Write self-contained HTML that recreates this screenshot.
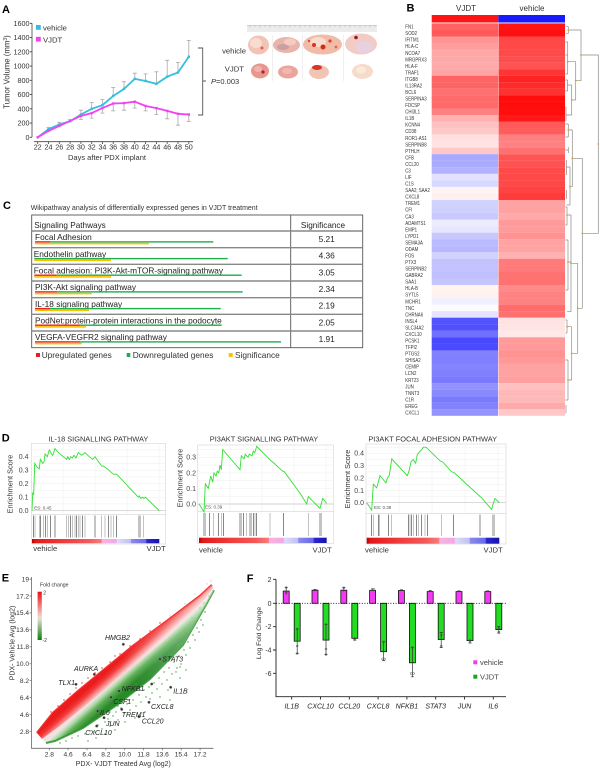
<!DOCTYPE html>
<html><head><meta charset="utf-8"><style>
html,body{margin:0;padding:0;background:#fff;}
svg{display:block;font-family:"Liberation Sans",Arial,sans-serif;}
</style></head><body>
<svg width="600" height="771" viewBox="0 0 600 771" xmlns="http://www.w3.org/2000/svg">
<defs>
<linearGradient id="gsea" x1="0" y1="0" x2="1" y2="0">
<stop offset="0" stop-color="#b80000"/><stop offset="0.03" stop-color="#e61818"/><stop offset="0.25" stop-color="#ef3c3c"/><stop offset="0.45" stop-color="#f45a5a"/><stop offset="0.545" stop-color="#f87c7c"/><stop offset="0.55" stop-color="#f8b4e0"/><stop offset="0.66" stop-color="#f2a8e6"/><stop offset="0.67" stop-color="#dcdcf8"/><stop offset="0.775" stop-color="#c0c0f4"/><stop offset="0.78" stop-color="#8a8aec"/><stop offset="0.895" stop-color="#6a6ae4"/><stop offset="0.9" stop-color="#2a2ad0"/><stop offset="1" stop-color="#1a10b0"/>
</linearGradient>
<linearGradient id="upg" gradientUnits="userSpaceOnUse" x1="100" y1="694" x2="92" y2="685">
<stop offset="0" stop-color="#f8d4d4"/><stop offset="0.3" stop-color="#f88a8a"/><stop offset="0.65" stop-color="#f03a3a"/><stop offset="1" stop-color="#ec1c1c"/>
</linearGradient>
<linearGradient id="lowg" gradientUnits="userSpaceOnUse" x1="100" y1="694" x2="109.5" y2="704.6">
<stop offset="0" stop-color="#f0e2e2"/><stop offset="0.22" stop-color="#b8dcb0"/><stop offset="0.55" stop-color="#5cae54"/><stop offset="1" stop-color="#2a8a2a"/>
</linearGradient>
<linearGradient id="fadeg" gradientUnits="userSpaceOnUse" x1="120" y1="662" x2="213" y2="587">
<stop offset="0" stop-color="#fff" stop-opacity="0"/><stop offset="1" stop-color="#fff" stop-opacity="0.5"/>
</linearGradient>
<linearGradient id="fcg" x1="0" y1="0" x2="0" y2="1">
<stop offset="0" stop-color="#e81010"/><stop offset="0.45" stop-color="#f4b8b8"/><stop offset="0.55" stop-color="#e6e0d6"/><stop offset="1" stop-color="#0e800e"/>
</linearGradient>
</defs>

<!-- ================= PANEL A ================= -->
<text x="2" y="13" font-size="11" font-weight="bold">A</text>
<g font-size="7.2" fill="#333" text-anchor="end">
<text x="29.5" y="139.8">0</text><text x="29.5" y="125.5">200</text><text x="29.5" y="111.3">400</text><text x="29.5" y="97">600</text><text x="29.5" y="82.8">800</text><text x="29.5" y="68.5">1000</text><text x="29.5" y="54.3">1200</text><text x="29.5" y="40">1400</text><text x="29.5" y="25.8">1600</text>
</g>
<path d="M32,23.3 V137.3 M29.8,137.3H32 M29.8,123.05H32 M29.8,108.8H32 M29.8,94.55H32 M29.8,80.3H32 M29.8,66.05H32 M29.8,51.8H32 M29.8,37.55H32 M29.8,23.3H32" stroke="#444" stroke-width="0.8" fill="none"/>
<path d="M34,141.7 H193 M37.7,141.7V144 M48.5,141.7V144 M59.3,141.7V144 M70.1,141.7V144 M80.9,141.7V144 M91.7,141.7V144 M102.4,141.7V144 M113.2,141.7V144 M124,141.7V144 M134.8,141.7V144 M145.6,141.7V144 M156.4,141.7V144 M167.2,141.7V144 M178,141.7V144 M188.8,141.7V144" stroke="#444" stroke-width="0.8" fill="none"/>
<g font-size="7.2" fill="#333" text-anchor="middle">
<text x="37.7" y="149.6">22</text><text x="48.5" y="149.6">24</text><text x="59.3" y="149.6">26</text><text x="70.1" y="149.6">28</text><text x="80.9" y="149.6">30</text><text x="91.7" y="149.6">32</text><text x="102.4" y="149.6">34</text><text x="113.2" y="149.6">36</text><text x="124" y="149.6">38</text><text x="134.8" y="149.6">40</text><text x="145.6" y="149.6">42</text><text x="156.4" y="149.6">44</text><text x="167.2" y="149.6">46</text><text x="178" y="149.6">48</text><text x="188.8" y="149.6">50</text>
</g>
<text x="107" y="160" font-size="7.5" fill="#333" text-anchor="middle">Days after  PDX implant</text>
<text transform="translate(9.5,72) rotate(-90)" font-size="7.8" fill="#333" text-anchor="middle">Tumor Volume (mm<tspan font-size="5" dy="-2.5">3</tspan><tspan dy="2.5">)</tspan></text>
<!-- error bars -->
<path d="M48.5,129.1V127.5 M46.5,127.5H50.5 M59.3,124.5V122.3 M57.3,122.3H61.3 M70.1,121.3V119.7 M68.1,119.7H72.1 M80.9,114.5V110.2 M78.9,110.2H82.9 M91.7,108.8V102.4 M89.7,102.4H93.7 M102.4,105.2V99.5 M100.4,99.5H104.4 M113.2,96V87.4 M111.2,87.4H115.2 M124,88.9V81.7 M122,81.7H126 M134.8,78.9V73.2 M132.8,73.2H136.8 M145.6,81V73.9 M143.6,73.9H147.6 M156.4,83.9V71.8 M154.4,71.8H158.4 M167.2,76.7V60.3 M165.2,60.3H169.2 M178,72.5V62.5 M176,62.5H180 M188.8,56.8V40.4 M186.8,40.4H190.8" stroke="#a8a8a8" stroke-width="0.8" fill="none"/>
<path d="M80.9,115.9V119.5 M78.9,119.5H82.9 M91.7,113.1V118.1 M89.7,118.1H93.7 M102.4,108.1V113.1 M100.4,113.1H104.4 M113.2,103.5V110.9 M111.2,110.9H115.2 M124,103.1V110.2 M122,110.2H126 M134.8,101.7V108.1 M132.8,108.1H136.8 M145.6,106V110.9 M143.6,110.9H147.6 M156.4,108.1V114.5 M154.4,114.5H158.4 M167.2,110.9V118.8 M165.2,118.8H169.2 M178,113.8V125.2 M176,125.2H180 M188.8,114.5V121.6 M186.8,121.6H190.8" stroke="#a8a8a8" stroke-width="0.8" fill="none"/>
<polyline points="37.7,137.3 48.5,129.1 59.3,124.5 70.1,121.3 80.9,114.5 91.7,108.8 102.4,105.2 113.2,96.0 124.0,88.9 134.8,78.9 145.6,81.0 156.4,83.9 167.2,76.7 178.0,72.5 188.8,56.8" fill="none" stroke="#36bde2" stroke-width="1.8"/>
<polyline points="37.7,137.3 48.5,130.9 59.3,125.9 70.1,120.9 80.9,115.9 91.7,113.1 102.4,108.1 113.2,103.5 124.0,103.1 134.8,101.7 145.6,106.0 156.4,108.1 167.2,110.9 178.0,113.8 188.8,114.5" fill="none" stroke="#f044f0" stroke-width="1.8"/>
<g fill="#36bde2"><rect x="47.3" y="127.9" width="2.4" height="2.4"/><rect x="58.1" y="123.3" width="2.4" height="2.4"/><rect x="68.9" y="120.1" width="2.4" height="2.4"/><rect x="79.7" y="113.3" width="2.4" height="2.4"/><rect x="90.5" y="107.6" width="2.4" height="2.4"/><rect x="101.2" y="104" width="2.4" height="2.4"/><rect x="112" y="94.8" width="2.4" height="2.4"/><rect x="122.8" y="87.7" width="2.4" height="2.4"/><rect x="133.6" y="77.7" width="2.4" height="2.4"/><rect x="144.4" y="79.8" width="2.4" height="2.4"/><rect x="155.2" y="82.7" width="2.4" height="2.4"/><rect x="166" y="75.5" width="2.4" height="2.4"/><rect x="176.8" y="71.3" width="2.4" height="2.4"/><rect x="187.6" y="55.6" width="2.4" height="2.4"/></g>
<g fill="#f044f0"><rect x="36.5" y="136.1" width="2.4" height="2.4"/><rect x="47.3" y="129.7" width="2.4" height="2.4"/><rect x="58.1" y="124.7" width="2.4" height="2.4"/><rect x="68.9" y="119.7" width="2.4" height="2.4"/><rect x="79.7" y="114.7" width="2.4" height="2.4"/><rect x="90.5" y="111.9" width="2.4" height="2.4"/><rect x="101.2" y="106.9" width="2.4" height="2.4"/><rect x="112" y="102.3" width="2.4" height="2.4"/><rect x="122.8" y="101.9" width="2.4" height="2.4"/><rect x="133.6" y="100.5" width="2.4" height="2.4"/><rect x="144.4" y="104.8" width="2.4" height="2.4"/><rect x="155.2" y="106.9" width="2.4" height="2.4"/><rect x="166" y="109.7" width="2.4" height="2.4"/><rect x="176.8" y="112.6" width="2.4" height="2.4"/><rect x="187.6" y="113.3" width="2.4" height="2.4"/></g>
<rect x="36" y="25" width="4.8" height="4.8" fill="#36bde2"/>
<text x="43" y="30.6" font-size="7.7" fill="#333">vehicle</text>
<rect x="36" y="36.8" width="4.8" height="4.8" fill="#f044f0"/>
<text x="43" y="42.3" font-size="7.7" fill="#333">VJDT</text>
<path d="M198,48 H202.7 V115 H198 M202.7,81 H206" stroke="#555" stroke-width="0.9" fill="none"/>
<text x="211" y="84" font-size="7.5" fill="#333"><tspan font-style="italic">P</tspan>=0.003</text>
<!-- photos -->
<rect x="247" y="25" width="130" height="7" fill="#ececec"/>
<path d="M247,25.5 H377" stroke="#bbb" stroke-width="0.6"/>
<path d="M250,25.5v2 M255,25.5v1.3 M260,25.5v2 M265,25.5v1.3 M270,25.5v2 M275,25.5v1.3 M280,25.5v2 M285,25.5v1.3 M290,25.5v2 M295,25.5v1.3 M300,25.5v2 M305,25.5v1.3 M310,25.5v2 M315,25.5v1.3 M320,25.5v2 M325,25.5v1.3 M330,25.5v2 M335,25.5v1.3 M340,25.5v2 M345,25.5v1.3 M350,25.5v2 M355,25.5v1.3 M360,25.5v2 M365,25.5v1.3 M370,25.5v2 M375,25.5v1.3" stroke="#999" stroke-width="0.5"/>
<path d="M272.7,35V81 M302.3,35V81 M343.3,35V81" stroke="#e4e4e4" stroke-width="0.6"/>
<text x="246" y="53.7" font-size="7.7" fill="#333" text-anchor="end">vehicle</text>
<text x="244" y="71.7" font-size="7.7" fill="#333" text-anchor="end">VJDT</text>
<ellipse cx="258.5" cy="45" rx="10.5" ry="9.5" fill="#f2c4b4"/><ellipse cx="256" cy="43" rx="6" ry="5" fill="#f8dcd0"/><circle cx="262" cy="48" r="1.5" fill="#e06050"/>
<ellipse cx="286.5" cy="45" rx="13.5" ry="8" fill="#eab4aa"/><ellipse cx="283" cy="47" rx="6" ry="3" fill="#c8a0a4"/><ellipse cx="290" cy="42" rx="6" ry="3.5" fill="#f4ccc2"/>
<ellipse cx="322.5" cy="44.5" rx="19.5" ry="10" fill="#f0bca8"/><ellipse cx="318" cy="42" rx="8" ry="5" fill="#f8dccc"/><circle cx="314" cy="45" r="2" fill="#e03020"/><circle cx="323" cy="47" r="2.5" fill="#d82818"/><circle cx="330" cy="41" r="1.6" fill="#e84030"/><circle cx="309" cy="41" r="1.2" fill="#e04838"/><circle cx="336" cy="47" r="1.4" fill="#e86050"/>
<ellipse cx="361" cy="44" rx="16" ry="10.5" fill="#f2ccc4"/><ellipse cx="364" cy="47" rx="9" ry="6" fill="#e8d0e0"/><circle cx="356" cy="37.5" r="1.8" fill="#a01818"/>
<ellipse cx="260" cy="71" rx="9" ry="7.5" fill="#e8968e"/><circle cx="263" cy="72" r="1.6" fill="#b02030"/><ellipse cx="258" cy="69" rx="4" ry="3" fill="#f0b4ac"/>
<ellipse cx="288" cy="72" rx="10" ry="6.5" fill="#eaa49c"/><ellipse cx="287" cy="71" rx="5" ry="3" fill="#f0b8b0"/>
<ellipse cx="319" cy="72" rx="10" ry="7" fill="#f2c4b4"/><ellipse cx="317" cy="67.5" rx="5" ry="2.5" fill="#d83428"/>
<ellipse cx="362.5" cy="71.5" rx="10.5" ry="7.5" fill="#f6dcc8"/><ellipse cx="361" cy="70" rx="5" ry="3.5" fill="#faeadc"/>

<!-- ================= PANEL B ================= -->
<text x="406.5" y="11.7" font-size="11" font-weight="bold">B</text>
<text x="466" y="11" font-size="8" fill="#333" text-anchor="middle">VJDT</text>
<text x="532" y="11" font-size="8" fill="#333" text-anchor="middle">vehicle</text>
<rect x="431.7" y="15" width="66.6" height="7.5" fill="#ff1414"/>
<rect x="498.3" y="15" width="66.7" height="7.5" fill="#1a1aff"/>
<g>
<rect x="431.7" y="23.40" width="66.6" height="6.6" fill="#ff6262"/><rect x="498.3" y="23.40" width="66.7" height="6.6" fill="#ff1414"/>
<rect x="431.7" y="29.94" width="66.6" height="6.6" fill="#ff5a5a"/><rect x="498.3" y="29.94" width="66.7" height="6.6" fill="#ff1010"/>
<rect x="431.7" y="36.48" width="66.6" height="6.6" fill="#ff9494"/><rect x="498.3" y="36.48" width="66.7" height="6.6" fill="#ff4848"/>
<rect x="431.7" y="43.02" width="66.6" height="6.6" fill="#ff9c9c"/><rect x="498.3" y="43.02" width="66.7" height="6.6" fill="#ff4848"/>
<rect x="431.7" y="49.56" width="66.6" height="6.6" fill="#ffa8a8"/><rect x="498.3" y="49.56" width="66.7" height="6.6" fill="#ff4a4a"/>
<rect x="431.7" y="56.10" width="66.6" height="6.6" fill="#ffa8a8"/><rect x="498.3" y="56.10" width="66.7" height="6.6" fill="#ff4c4c"/>
<rect x="431.7" y="62.64" width="66.6" height="6.6" fill="#ffaaaa"/><rect x="498.3" y="62.64" width="66.7" height="6.6" fill="#ff5252"/>
<rect x="431.7" y="69.18" width="66.6" height="6.6" fill="#ffa4a4"/><rect x="498.3" y="69.18" width="66.7" height="6.6" fill="#ff3434"/>
<rect x="431.7" y="75.72" width="66.6" height="6.6" fill="#ff6464"/><rect x="498.3" y="75.72" width="66.7" height="6.6" fill="#ff2424"/>
<rect x="431.7" y="82.26" width="66.6" height="6.6" fill="#ff6464"/><rect x="498.3" y="82.26" width="66.7" height="6.6" fill="#ff2a2a"/>
<rect x="431.7" y="88.80" width="66.6" height="6.6" fill="#ff7070"/><rect x="498.3" y="88.80" width="66.7" height="6.6" fill="#ff3232"/>
<rect x="431.7" y="95.34" width="66.6" height="6.6" fill="#ff6a6a"/><rect x="498.3" y="95.34" width="66.7" height="6.6" fill="#ff0c0c"/>
<rect x="431.7" y="101.88" width="66.6" height="6.6" fill="#ff6a6a"/><rect x="498.3" y="101.88" width="66.7" height="6.6" fill="#ff0c0c"/>
<rect x="431.7" y="108.42" width="66.6" height="6.6" fill="#ff8080"/><rect x="498.3" y="108.42" width="66.7" height="6.6" fill="#ff0e0e"/>
<rect x="431.7" y="114.96" width="66.6" height="6.6" fill="#ffb0b0"/><rect x="498.3" y="114.96" width="66.7" height="6.6" fill="#ff1818"/>
<rect x="431.7" y="121.50" width="66.6" height="6.6" fill="#ffc2c2"/><rect x="498.3" y="121.50" width="66.7" height="6.6" fill="#ff5a5a"/>
<rect x="431.7" y="128.04" width="66.6" height="6.6" fill="#ffc8c8"/><rect x="498.3" y="128.04" width="66.7" height="6.6" fill="#ff5c5c"/>
<rect x="431.7" y="134.58" width="66.6" height="6.6" fill="#ffe0e0"/><rect x="498.3" y="134.58" width="66.7" height="6.6" fill="#ff8080"/>
<rect x="431.7" y="141.12" width="66.6" height="6.6" fill="#ffe2e2"/><rect x="498.3" y="141.12" width="66.7" height="6.6" fill="#ff8282"/>
<rect x="431.7" y="147.66" width="66.6" height="6.6" fill="#ffc8c8"/><rect x="498.3" y="147.66" width="66.7" height="6.6" fill="#ff7070"/>
<rect x="431.7" y="154.20" width="66.6" height="6.6" fill="#a8a8ff"/><rect x="498.3" y="154.20" width="66.7" height="6.6" fill="#ff5454"/>
<rect x="431.7" y="160.74" width="66.6" height="6.6" fill="#aaaaff"/><rect x="498.3" y="160.74" width="66.7" height="6.6" fill="#ff5252"/>
<rect x="431.7" y="167.28" width="66.6" height="6.6" fill="#b2b2ff"/><rect x="498.3" y="167.28" width="66.7" height="6.6" fill="#ff4a4a"/>
<rect x="431.7" y="173.82" width="66.6" height="6.6" fill="#e2e2ff"/><rect x="498.3" y="173.82" width="66.7" height="6.6" fill="#ff4848"/>
<rect x="431.7" y="180.36" width="66.6" height="6.6" fill="#d8d8ff"/><rect x="498.3" y="180.36" width="66.7" height="6.6" fill="#ff4848"/>
<rect x="431.7" y="186.90" width="66.6" height="6.6" fill="#fff4f4"/><rect x="498.3" y="186.90" width="66.7" height="6.6" fill="#ff4242"/>
<rect x="431.7" y="193.44" width="66.6" height="6.6" fill="#fff0f0"/><rect x="498.3" y="193.44" width="66.7" height="6.6" fill="#ff3a3a"/>
<rect x="431.7" y="199.98" width="66.6" height="6.6" fill="#d2d2ff"/><rect x="498.3" y="199.98" width="66.7" height="6.6" fill="#ffa2a2"/>
<rect x="431.7" y="206.52" width="66.6" height="6.6" fill="#d0d0ff"/><rect x="498.3" y="206.52" width="66.7" height="6.6" fill="#ffa2a2"/>
<rect x="431.7" y="213.06" width="66.6" height="6.6" fill="#c8c8ff"/><rect x="498.3" y="213.06" width="66.7" height="6.6" fill="#ffaaaa"/>
<rect x="431.7" y="219.60" width="66.6" height="6.6" fill="#ececff"/><rect x="498.3" y="219.60" width="66.7" height="6.6" fill="#ff9a9a"/>
<rect x="431.7" y="226.14" width="66.6" height="6.6" fill="#e6e6ff"/><rect x="498.3" y="226.14" width="66.7" height="6.6" fill="#ff9a9a"/>
<rect x="431.7" y="232.68" width="66.6" height="6.6" fill="#c8c8ff"/><rect x="498.3" y="232.68" width="66.7" height="6.6" fill="#ff9292"/>
<rect x="431.7" y="239.22" width="66.6" height="6.6" fill="#babaff"/><rect x="498.3" y="239.22" width="66.7" height="6.6" fill="#ffa2a2"/>
<rect x="431.7" y="245.76" width="66.6" height="6.6" fill="#b8b8ff"/><rect x="498.3" y="245.76" width="66.7" height="6.6" fill="#ffa2a2"/>
<rect x="431.7" y="252.30" width="66.6" height="6.6" fill="#d2d2ff"/><rect x="498.3" y="252.30" width="66.7" height="6.6" fill="#ffb0b0"/>
<rect x="431.7" y="258.84" width="66.6" height="6.6" fill="#c2c2ff"/><rect x="498.3" y="258.84" width="66.7" height="6.6" fill="#ff7a7a"/>
<rect x="431.7" y="265.38" width="66.6" height="6.6" fill="#c2c2ff"/><rect x="498.3" y="265.38" width="66.7" height="6.6" fill="#ff7a7a"/>
<rect x="431.7" y="271.92" width="66.6" height="6.6" fill="#c0c0ff"/><rect x="498.3" y="271.92" width="66.7" height="6.6" fill="#ff7272"/>
<rect x="431.7" y="278.46" width="66.6" height="6.6" fill="#c6c6ff"/><rect x="498.3" y="278.46" width="66.7" height="6.6" fill="#ff7272"/>
<rect x="431.7" y="285.00" width="66.6" height="6.6" fill="#fff4f0"/><rect x="498.3" y="285.00" width="66.7" height="6.6" fill="#ff8a8a"/>
<rect x="431.7" y="291.54" width="66.6" height="6.6" fill="#fff2ee"/><rect x="498.3" y="291.54" width="66.7" height="6.6" fill="#ff8282"/>
<rect x="431.7" y="298.08" width="66.6" height="6.6" fill="#f0f0ff"/><rect x="498.3" y="298.08" width="66.7" height="6.6" fill="#ff8282"/>
<rect x="431.7" y="304.62" width="66.6" height="6.6" fill="#fafaff"/><rect x="498.3" y="304.62" width="66.7" height="6.6" fill="#ff6c6c"/>
<rect x="431.7" y="311.16" width="66.6" height="6.6" fill="#e4e4ff"/><rect x="498.3" y="311.16" width="66.7" height="6.6" fill="#ff7070"/>
<rect x="431.7" y="317.70" width="66.6" height="6.6" fill="#5252ff"/><rect x="498.3" y="317.70" width="66.7" height="6.6" fill="#ffe2e2"/>
<rect x="431.7" y="324.24" width="66.6" height="6.6" fill="#5050ff"/><rect x="498.3" y="324.24" width="66.7" height="6.6" fill="#ffe4e4"/>
<rect x="431.7" y="330.78" width="66.6" height="6.6" fill="#7070ff"/><rect x="498.3" y="330.78" width="66.7" height="6.6" fill="#ffe8e8"/>
<rect x="431.7" y="337.32" width="66.6" height="6.6" fill="#4848ff"/><rect x="498.3" y="337.32" width="66.7" height="6.6" fill="#ff9a9a"/>
<rect x="431.7" y="343.86" width="66.6" height="6.6" fill="#4a4aff"/><rect x="498.3" y="343.86" width="66.7" height="6.6" fill="#ff9a9a"/>
<rect x="431.7" y="350.40" width="66.6" height="6.6" fill="#8282ff"/><rect x="498.3" y="350.40" width="66.7" height="6.6" fill="#ff9292"/>
<rect x="431.7" y="356.94" width="66.6" height="6.6" fill="#8080ff"/><rect x="498.3" y="356.94" width="66.7" height="6.6" fill="#ff9898"/>
<rect x="431.7" y="363.48" width="66.6" height="6.6" fill="#8484ff"/><rect x="498.3" y="363.48" width="66.7" height="6.6" fill="#ffa2a2"/>
<rect x="431.7" y="370.02" width="66.6" height="6.6" fill="#8080ff"/><rect x="498.3" y="370.02" width="66.7" height="6.6" fill="#ffa2a2"/>
<rect x="431.7" y="376.56" width="66.6" height="6.6" fill="#7a7aff"/><rect x="498.3" y="376.56" width="66.7" height="6.6" fill="#ffa0a0"/>
<rect x="431.7" y="383.10" width="66.6" height="6.6" fill="#9292ff"/><rect x="498.3" y="383.10" width="66.7" height="6.6" fill="#ffc0c0"/>
<rect x="431.7" y="389.64" width="66.6" height="6.6" fill="#8a8aff"/><rect x="498.3" y="389.64" width="66.7" height="6.6" fill="#ffb8b8"/>
<rect x="431.7" y="396.18" width="66.6" height="6.6" fill="#7a7aff"/><rect x="498.3" y="396.18" width="66.7" height="6.6" fill="#ffb8b8"/>
<rect x="431.7" y="402.72" width="66.6" height="6.6" fill="#8282ff"/><rect x="498.3" y="402.72" width="66.7" height="6.6" fill="#ffaaaa"/>
<rect x="431.7" y="409.26" width="66.6" height="6.54" fill="#9494ff"/><rect x="498.3" y="409.26" width="66.7" height="6.54" fill="#ffc8c8"/>
</g>
<path d="M498.3,23.4V415.8" stroke="#fff" stroke-width="0.6" opacity="0.7"/>
<g transform="translate(405.3 0) scale(0.82 1)" font-size="5.3" fill="#333">
<text x="0" y="28.6">FN1</text><text x="0" y="35.1">SOD2</text><text x="0" y="41.7">IFITM1</text><text x="0" y="48.2">HLA-C</text><text x="0" y="54.8">NCOA7</text><text x="0" y="61.3">MRGPRX3</text><text x="0" y="67.8">HLA-F</text><text x="0" y="74.4">TRAF1</text><text x="0" y="80.9">ITGB8</text><text x="0" y="87.5">IL13RA2</text><text x="0" y="94.0">BCL6</text><text x="0" y="100.5">SERPINA3</text><text x="0" y="107.1">FDCSP</text><text x="0" y="113.6">CHI3L1</text><text x="0" y="120.2">IL1B</text><text x="0" y="126.7">KCNN4</text><text x="0" y="133.2">CD38</text><text x="0" y="139.8">ROR1-AS1</text><text x="0" y="146.3">SERPINB8</text><text x="0" y="152.9">PTHLH</text><text x="0" y="159.4">CFB</text><text x="0" y="165.9">CCL20</text><text x="0" y="172.5">C3</text><text x="0" y="179.0">LIF</text><text x="0" y="185.6">C1S</text><text x="0" y="192.1">SAA2; SAA2</text><text x="0" y="198.6">CXCL8</text><text x="0" y="205.2">TREM1</text><text x="0" y="211.7">CFI</text><text x="0" y="218.3">CA3</text><text x="0" y="224.8">ADAMTS1</text><text x="0" y="231.3">EMP1</text><text x="0" y="237.9">LYPD1</text><text x="0" y="244.4">SEMA3A</text><text x="0" y="251.0">ODAM</text><text x="0" y="257.5">FOS</text><text x="0" y="264.0">PTX3</text><text x="0" y="270.6">SERPINB2</text><text x="0" y="277.1">GABRA2</text><text x="0" y="283.7">SAA1</text><text x="0" y="290.2">HLA-B</text><text x="0" y="296.7">SYTL5</text><text x="0" y="303.3">MCHR1</text><text x="0" y="309.8">TNC</text><text x="0" y="316.4">CHRNA6</text><text x="0" y="322.9">INSL4</text><text x="0" y="329.4">SLC34A2</text><text x="0" y="336.0">CXCL10</text><text x="0" y="342.5">PCSK1</text><text x="0" y="349.1">TFPI2</text><text x="0" y="355.6">PTGS2</text><text x="0" y="362.1">SHISA2</text><text x="0" y="368.7">CEMIP</text><text x="0" y="375.2">LCN2</text><text x="0" y="381.8">KRT23</text><text x="0" y="388.3">JUN</text><text x="0" y="394.8">TNNT3</text><text x="0" y="401.4">C1R</text><text x="0" y="407.9">EREG</text><text x="0" y="414.5">CXCL1</text>
</g>
<!-- dendrogram -->
<path d="M581,55 H598.3 V233.3 H582.3
M568.3,30 H581 V80.7 H575.7 M566,26.7 H568.3 V33.3 H566
M575.7,61.7 V100 M567.7,61.7 H575.7 M571.7,100 H575.7
M567.7,42 V74 M565.5,42 H567.7 M565.5,74 H567.7 M565.5,55 H567.7
M571.7,85 V115 M567.5,85 H571.7 M566,115 H571.7 M567.5,80 V91 M565.5,80 H567.5 M565.5,91 H567.5 M566,107 V121 M565.5,107 H566
M582.3,158.3 V308.3 M572.3,158.3 H582.3 M577.7,308.3 H582.3
M572.3,130 V186.7 M568.3,130 H572.3 M570,186.7 H572.3
M568.3,124 V137 M565.5,124 H568.3 M565.5,137 H568.3 M568.3,147 V153 M565.5,150 H568.3
M570,167 V205 M566.5,167 H570 M566.5,205 H570 M566.5,160 V175 M566.5,190 V199
M577.7,263.3 V353.3 M571,263.3 H577.7 M571.7,353.3 H577.7
M571,215 V311.7 M567,215 H571 M567,311.7 H571 M567,207 V225 M565.5,207 H567 M565.5,225 H567
M568,240 V290 M565.5,240 H568 M565.5,290 H568 M568,262 H571
M571.7,326.7 V380 M567,326.7 H571.7 M568,380 H571.7
M567,320 V333 M565.5,320 H567 M565.5,333 H567
M568,360 V400 M565.5,360 H568 M565.5,400 H568 M566,405 V413 M565.5,413 H566" stroke="#8a8a8a" stroke-width="0.7" fill="none"/>
<g fill="#d8a030"><circle cx="598.3" cy="144" r="0.9"/><circle cx="581" cy="55" r="0.9"/><circle cx="575.7" cy="80.7" r="0.9"/><circle cx="571.7" cy="100" r="0.9"/><circle cx="582.3" cy="233.3" r="0.9"/><circle cx="572.3" cy="158.3" r="0.9"/><circle cx="577.7" cy="308.3" r="0.9"/><circle cx="571" cy="263.3" r="0.9"/><circle cx="571.7" cy="353.3" r="0.9"/><circle cx="568.3" cy="30" r="0.9"/><circle cx="567.7" cy="61.7" r="0.9"/><circle cx="570" cy="186.7" r="0.9"/><circle cx="568.3" cy="130" r="0.9"/><circle cx="567" cy="215" r="0.9"/><circle cx="568" cy="380" r="0.9"/><circle cx="567" cy="326.7" r="0.9"/><circle cx="568" cy="262" r="0.9"/></g>

<!-- ================= PANEL C ================= -->
<text x="3" y="209" font-size="11" font-weight="bold">C</text>
<text x="30.7" y="210.2" font-size="7" fill="#333">Wikipathway analysis of differentially expressed genes in VJDT treatment</text>
<rect x="31.7" y="215" width="331" height="132.7" fill="#fff" stroke="#555" stroke-width="0.9"/>
<path d="M290.7,215 V347.7" stroke="#555" stroke-width="0.9"/>
<path d="M31.7,231 H362.7 M31.7,247.67 H362.7 M31.7,264.33 H362.7 M31.7,281 H362.7 M31.7,297.67 H362.7 M31.7,314.33 H362.7 M31.7,331 H362.7" stroke="#888" stroke-width="1.4"/>
<text x="34.3" y="228" font-size="8.2" fill="#222">Signaling Pathways</text>
<text x="323" y="228" font-size="8.2" fill="#222" text-anchor="middle">Significance</text>
<g font-size="8.3" fill="#222">
<text x="35" y="240.2">Focal Adhesion</text>
<text x="33.7" y="256.9">Endothelin pathway</text>
<text x="33.7" y="273.5">Focal adhesion: PI3K-Akt-mTOR-signaling pathway</text>
<text x="35" y="290.2">PI3K-Akt signaling pathway</text>
<text x="35" y="306.9">IL-18 signaling pathway</text>
<text x="35" y="323.5">PodNet:protein-protein interactions in the podocyte</text>
<text x="35" y="340.2">VEGFA-VEGFR2 signaling pathway</text>
</g>
<g font-size="8.3" fill="#222" text-anchor="middle">
<text x="326.7" y="242">5.21</text><text x="326.7" y="258.7">4.36</text><text x="326.7" y="275.3">3.05</text><text x="326.7" y="292">2.34</text><text x="326.7" y="308.7">2.19</text><text x="326.7" y="325.3">2.05</text><text x="326.7" y="342">1.91</text>
</g>
<g>
<rect x="35" y="241.2" width="15" height="1.4" fill="#ee1c24"/><rect x="50" y="241.2" width="163.3" height="1.4" fill="#1fae4c"/><rect x="35" y="242.8" width="114" height="1.6" fill="#ffc000"/>
<rect x="34.3" y="257.9" width="193.4" height="1.4" fill="#1fae4c"/><rect x="34.3" y="259.5" width="76.7" height="1.6" fill="#ffc000"/>
<rect x="34.3" y="274.5" width="22.4" height="1.4" fill="#ee1c24"/><rect x="56.7" y="274.5" width="185" height="1.4" fill="#1fae4c"/><rect x="34.3" y="276.1" width="76.7" height="1.6" fill="#ffc000"/>
<rect x="35" y="291.2" width="22.7" height="1.4" fill="#ee1c24"/><rect x="57.7" y="291.2" width="185" height="1.4" fill="#1fae4c"/><rect x="35" y="292.8" width="56.7" height="1.6" fill="#ffc000"/>
<rect x="35" y="307.9" width="15" height="1.4" fill="#ee1c24"/><rect x="50" y="307.9" width="170.7" height="1.4" fill="#1fae4c"/><rect x="35" y="309.5" width="54" height="1.6" fill="#ffc000"/>
<rect x="35" y="324.5" width="45" height="1.4" fill="#ee1c24"/><rect x="80" y="324.5" width="141.7" height="1.4" fill="#1fae4c"/><rect x="35" y="326.1" width="51" height="1.6" fill="#ffc000"/>
<rect x="35" y="341.2" width="45" height="1.4" fill="#ee1c24"/><rect x="80" y="341.2" width="201" height="1.4" fill="#1fae4c"/><rect x="35" y="342.8" width="46.7" height="1.6" fill="#ffc000"/>
</g>
<rect x="36" y="353" width="4" height="4" fill="#ee1c24"/><text x="41.7" y="357.8" font-size="8.3" fill="#333">Upregulated genes</text>
<rect x="126.7" y="353" width="3.6" height="4" fill="#1fae4c"/><text x="132.7" y="357.8" font-size="8.3" fill="#333">Downregulated genes</text>
<rect x="228.7" y="353" width="4" height="4" fill="#ffc000"/><text x="235" y="357.8" font-size="8.3" fill="#333">Significance</text>

<!-- ================= PANEL D ================= -->
<text x="1.7" y="441.7" font-size="11" font-weight="bold">D</text>
<g font-size="7.4" fill="#333" text-anchor="middle">
<text x="98.3" y="441.6">IL-18 SIGNALLING PATHWAY</text>
<text x="264" y="441.6">PI3AKT SIGNALLING PATHWAY</text>
<text x="432.7" y="441.6">PI3AKT FOCAL ADHESION PATHWAY</text>
</g>
<!-- plot 1 -->
<rect x="31.7" y="443.3" width="134" height="100.7" fill="#fff" stroke="#d4d4d4" stroke-width="0.6"/>
<path d="M31.7,456.7H165.7 M31.7,470.2H165.7 M31.7,483.7H165.7 M31.7,497.2H165.7 M31.7,449.9H165.7 M31.7,463.4H165.7 M31.7,476.9H165.7 M31.7,490.4H165.7 M31.7,503.9H165.7 M63,443.3V514 M95,443.3V514 M127,443.3V514 M159,443.3V514" stroke="#eeeeee" stroke-width="0.5"/>
<path d="M31.7,510.7H165.7" stroke="#c4c4c4" stroke-width="0.7"/>
<path d="M31.7,514.3H165.7" stroke="#d4d4d4" stroke-width="0.6"/>
<g font-size="7" fill="#444" text-anchor="end"><text x="28.5" y="513.1">0.0</text><text x="28.5" y="499.6">0.1</text><text x="28.5" y="486.1">0.2</text><text x="28.5" y="472.6">0.3</text><text x="28.5" y="459.1">0.4</text></g>
<text transform="translate(12.5,484) rotate(-90)" font-size="7.4" fill="#333" text-anchor="middle">Enrichment Score</text>
<text x="34.3" y="509.5" font-size="4.5" fill="#555">ES: 0.45</text>
<path d="M35,515.5V537.5 M39.3,515.5V537.5 M43.3,515.5V537.5 M47.7,515.5V537.5 M66.7,515.5V537.5 M68.3,515.5V537.5 M72.7,515.5V537.5 M75,515.5V537.5 M78.7,515.5V537.5 M80,515.5V537.5 M85,515.5V537.5 M101.7,515.5V537.5 M105,515.5V537.5 M111,515.5V537.5 M113.3,515.5V537.5 M138.3,515.5V537.5 M143.3,515.5V537.5" stroke="#9a9a9a" stroke-width="0.6"/>
<path d="M33.3,515.5V537.5 M40.7,515.5V537.5 M45.7,515.5V537.5 M50.7,515.5V537.5 M55,515.5V537.5 M70.7,515.5V537.5 M76.7,515.5V537.5 M82.3,515.5V537.5 M95,515.5V537.5 M108.3,515.5V537.5 M116.7,515.5V537.5 M140,515.5V537.5" stroke="#3a3a3a" stroke-width="0.6"/>
<rect x="32" y="539" width="127.3" height="4.3" fill="url(#gsea)"/>
<polyline points="32,510.7 32.7,493.1 33.7,494.5 34.7,463.4 37.3,467.5 39.3,468.8 40.3,459.4 42.7,463.4 44,462.1 45,454 47.3,456.7 49.3,449.9 52.3,455.3 53.3,454 55,448.6 58.3,452.6 65,458 66.7,459.4 67.7,456.7 69.3,459.4 70.7,456.7 72.3,458 74,455.3 76,458 78.3,452.6 81.7,455.3 83.3,454 85,452.6 89.3,456.7 92.7,459.4 95,456.7 101.7,466.1 103.3,466.1 107.3,468.8 113.3,474.2 116.7,474.2 138.3,497.2 139.3,495.8 140.7,498.5 142.7,497.2 144,498.5 145.7,497.2 146.7,498.5 159.3,510.7" fill="none" stroke="#33e033" stroke-width="0.9"/>
<text x="33.3" y="551" font-size="7.7" fill="#333">vehicle</text>
<text x="165.7" y="551" font-size="7.7" fill="#333" text-anchor="end">VJDT</text>
<!-- plot 2 -->
<rect x="197.7" y="445" width="135.6" height="98.5" fill="#fff" stroke="#d4d4d4" stroke-width="0.6"/>
<path d="M197.7,457.3H333.3 M197.7,472.9H333.3 M197.7,488.4H333.3 M197.7,449.5H333.3 M197.7,465.1H333.3 M197.7,480.7H333.3 M197.7,496.2H333.3 M230,445V511.7 M262,445V511.7 M294,445V511.7 M326,445V511.7" stroke="#eeeeee" stroke-width="0.5"/>
<path d="M197.7,504H333.3" stroke="#c4c4c4" stroke-width="0.7"/>
<path d="M197.7,511.7H333.3" stroke="#d4d4d4" stroke-width="0.6"/>
<g font-size="7" fill="#444" text-anchor="end"><text x="196" y="506.4">0.0</text><text x="196" y="490.8">0.1</text><text x="196" y="475.3">0.2</text><text x="196" y="459.7">0.3</text></g>
<text transform="translate(182.5,478) rotate(-90)" font-size="7.4" fill="#333" text-anchor="middle">Enrichment Score</text>
<text x="205" y="508.6" font-size="4.5" fill="#555">ES: 0.39</text>
<path d="M205.7,513V536 M213.3,513V536 M221.7,513V536 M241.7,513V536 M246.7,513V536 M251.7,513V536 M255,513V536 M270,513V536 M308.3,513V536 M321.7,513V536" stroke="#9a9a9a" stroke-width="0.6"/>
<path d="M204,513V536 M209.3,513V536 M218.3,513V536 M223.3,513V536 M240,513V536 M243.3,513V536 M250,513V536 M253.3,513V536 M256.7,513V536 M283.3,513V536 M320,513V536" stroke="#3a3a3a" stroke-width="0.6"/>
<rect x="199" y="537.7" width="127.7" height="5.3" fill="url(#gsea)"/>
<polyline points="199,504 204,511.8 205.3,483.8 208.3,488.4 210.7,476 212.7,482.2 214,472.9 216,476 217.3,471.3 218.7,472.9 220,465.1 221.3,469.8 222.7,449.5 240,469.8 241.3,455.8 244,458.9 245.3,454.2 248,457.3 249.3,454.2 252,455.8 253.3,451.1 254.7,452.7 256.7,446.4 270.7,460.4 272.7,462 282.7,471.3 284,471.3 300,493.1 306.7,504 308.3,496.7 320,508.4 322.7,498.4 326.7,503.4" fill="none" stroke="#33e033" stroke-width="0.9"/>
<text x="199" y="552.5" font-size="7.7" fill="#333">vehicle</text>
<text x="331.7" y="552.5" font-size="7.7" fill="#333" text-anchor="end">VJDT</text>
<!-- plot 3 -->
<rect x="366" y="444" width="140" height="100" fill="#fff" stroke="#d4d4d4" stroke-width="0.6"/>
<path d="M366,453.3H506 M366,465.7H506 M366,478H506 M366,490.4H506 M366,447.2H506 M366,459.5H506 M366,471.9H506 M366,484.2H506 M366,496.5H506 M399,444V513.3 M432,444V513.3 M465,444V513.3 M498,444V513.3" stroke="#eeeeee" stroke-width="0.5"/>
<path d="M366,502.7H506" stroke="#c4c4c4" stroke-width="0.7"/>
<path d="M366,513.3H506" stroke="#d4d4d4" stroke-width="0.6"/>
<g font-size="7" fill="#444" text-anchor="end"><text x="364" y="505.1">0.0</text><text x="364" y="492.8">0.1</text><text x="364" y="480.4">0.2</text><text x="364" y="468.1">0.3</text><text x="364" y="455.7">0.4</text></g>
<text transform="translate(349.8,479) rotate(-90)" font-size="7.4" fill="#333" text-anchor="middle">Enrichment Score</text>
<text x="374" y="508.8" font-size="4.5" fill="#555">ES: 0.38</text>
<path d="M373.3,514.5V536 M379.3,514.5V536 M391.7,514.5V536 M410,514.5V536 M413.3,514.5V536 M418.3,514.5V536 M425,514.5V536 M441.7,514.5V536 M492.7,514.5V536" stroke="#9a9a9a" stroke-width="0.6"/>
<path d="M371.7,514.5V536 M378.3,514.5V536 M388.3,514.5V536 M408.3,514.5V536 M411.7,514.5V536 M416.7,514.5V536 M421.7,514.5V536 M427.3,514.5V536 M453.3,514.5V536 M480,514.5V536 M494,514.5V536" stroke="#3a3a3a" stroke-width="0.6"/>
<rect x="366.7" y="537.7" width="132.6" height="6" fill="url(#gsea)"/>
<polyline points="366.7,502.7 371.7,510.1 373.3,484.2 376.7,487.9 380,475.6 386,483 387.3,478 389.3,475.6 391.7,458.9 407.3,475.6 409.3,470 411,462 413.3,459.5 415.7,463.2 417.3,454.6 419.3,452.1 421.7,449.7 423.3,447.2 426,447.2 440,460.8 442.7,462 451.7,471.9 454,472.5 480,496.5 481.7,497.8 491.7,509.5 492.7,505.2 495,498.4 499.3,502.7" fill="none" stroke="#33e033" stroke-width="0.9"/>
<text x="365" y="552.5" font-size="7.7" fill="#333">vehicle</text>
<text x="502.7" y="552.5" font-size="7.7" fill="#333" text-anchor="end">VJDT</text>

<!-- ================= PANEL E ================= -->
<text x="1.7" y="581.7" font-size="11" font-weight="bold">E</text>
<!-- band -->
<polygon points="37,733 53,713 77,692 100,673 133,646 167,621 200,596 212,585 213,588 200,606 167,638 133,667 100,694 80,710 60,726 42,739" fill="url(#upg)"/>
<polygon points="42,739 60,726 80,710 100,694 133,667 167,638 200,606 213,588 214,590 207,603 183,645 150,679 117,705 83,728 55,741 46,743" fill="url(#lowg)"/>
<polyline points="37,733 53,713 77,692 100,673 133,646 167,621 200,596 212,585" fill="none" stroke="#ee1c1c" stroke-width="2.4" opacity="0.9"/>
<polyline points="46,743 55,741 83,728 117,705 150,679 183,645 207,603 214,590" fill="none" stroke="#2a922a" stroke-width="2" opacity="0.85"/>
<g fill="#3aa03a">
<circle cx="60" cy="743" r="0.7"/><circle cx="66" cy="741" r="0.7"/><circle cx="72" cy="738" r="0.7"/><circle cx="78" cy="736" r="0.7"/><circle cx="85" cy="734" r="0.7"/><circle cx="90" cy="731" r="0.7"/><circle cx="95" cy="732" r="0.7"/><circle cx="98" cy="725" r="0.7"/><circle cx="102" cy="729" r="0.7"/><circle cx="105" cy="722" r="0.7"/><circle cx="108" cy="719" r="0.7"/><circle cx="110" cy="726" r="0.7"/><circle cx="113" cy="716" r="0.7"/><circle cx="116" cy="712" r="0.7"/><circle cx="118" cy="720" r="0.7"/><circle cx="121" cy="708" r="0.7"/><circle cx="124" cy="713" r="0.7"/><circle cx="127" cy="704" r="0.7"/><circle cx="130" cy="710" r="0.7"/><circle cx="133" cy="700" r="0.7"/><circle cx="136" cy="706" r="0.7"/><circle cx="139" cy="695" r="0.7"/><circle cx="141" cy="702" r="0.7"/><circle cx="144" cy="690" r="0.7"/><circle cx="146" cy="697" r="0.7"/><circle cx="149" cy="687" r="0.7"/><circle cx="152" cy="693" r="0.7"/><circle cx="154" cy="683" r="0.7"/><circle cx="157" cy="689" r="0.7"/><circle cx="159" cy="678" r="0.7"/><circle cx="162" cy="684" r="0.7"/><circle cx="164" cy="672" r="0.7"/><circle cx="167" cy="680" r="0.7"/><circle cx="169" cy="668" r="0.7"/><circle cx="172" cy="674" r="0.7"/><circle cx="174" cy="662" r="0.7"/><circle cx="177" cy="668" r="0.7"/><circle cx="179" cy="656" r="0.7"/><circle cx="181" cy="664" r="0.7"/><circle cx="184" cy="650" r="0.7"/><circle cx="186" cy="655" r="0.7"/><circle cx="188" cy="642" r="0.7"/><circle cx="190" cy="648" r="0.7"/><circle cx="193" cy="635" r="0.7"/><circle cx="195" cy="640" r="0.7"/><circle cx="197" cy="628" r="0.7"/><circle cx="199" cy="632" r="0.7"/><circle cx="201" cy="620" r="0.7"/><circle cx="203" cy="625" r="0.7"/><circle cx="205" cy="612" r="0.7"/><circle cx="180" cy="667" r="0.7"/><circle cx="176" cy="672" r="0.7"/><circle cx="168" cy="690" r="0.7"/><circle cx="160" cy="697" r="0.7"/><circle cx="145" cy="712" r="0.7"/><circle cx="135" cy="718" r="0.7"/><circle cx="125" cy="722" r="0.7"/><circle cx="115" cy="730" r="0.7"/><circle cx="105" cy="734" r="0.7"/><circle cx="140" cy="690" r="0.7"/><circle cx="178" cy="645" r="0.7"/><circle cx="155" cy="662" r="0.7"/><circle cx="162" cy="658" r="0.7"/><circle cx="142" cy="674" r="0.7"/><circle cx="136" cy="684" r="0.7"/><circle cx="110" cy="712" r="0.7"/><circle cx="118" cy="706" r="0.7"/><circle cx="128" cy="700" r="0.7"/><circle cx="150" cy="699" r="0.7"/><circle cx="96" cy="738" r="0.7"/><circle cx="88" cy="741" r="0.7"/><circle cx="180" cy="678" r="0.7"/><circle cx="170" cy="700" r="0.7"/><circle cx="186" cy="670" r="0.7"/>
</g>
<g fill="#ee3030">
<circle cx="44" cy="724" r="0.7"/><circle cx="51" cy="712" r="0.7"/><circle cx="58" cy="706" r="0.7"/><circle cx="64" cy="700" r="0.7"/><circle cx="70" cy="694" r="0.7"/><circle cx="76" cy="688" r="0.7"/><circle cx="82" cy="683" r="0.7"/><circle cx="88" cy="678" r="0.7"/><circle cx="95" cy="673" r="0.7"/><circle cx="102" cy="668" r="0.7"/><circle cx="110" cy="662" r="0.7"/><circle cx="120" cy="654" r="0.7"/><circle cx="130" cy="646" r="0.7"/><circle cx="140" cy="639" r="0.7"/><circle cx="150" cy="631" r="0.7"/><circle cx="160" cy="623" r="0.7"/><circle cx="62" cy="716" r="0.7"/><circle cx="100" cy="676" r="0.7"/><circle cx="115" cy="656" r="0.7"/>
</g>
<polygon points="37,733 53,713 77,692 100,673 133,646 167,621 200,596 212,585 214,590 207,603 183,645 150,679 117,705 83,728 55,741 46,743" fill="url(#fadeg)"/>
<g fill="#f8b8b8"><circle cx="170" cy="616" r="0.7"/><circle cx="185" cy="604" r="0.7"/><circle cx="195" cy="594" r="0.7"/><circle cx="207" cy="584" r="0.7"/><circle cx="211" cy="581" r="0.7"/></g>
<g fill="#9ccc94"><circle cx="192" cy="618" r="0.7"/><circle cx="200" cy="608" r="0.7"/><circle cx="209" cy="596" r="0.7"/><circle cx="204" cy="603" r="0.7"/></g>
<!-- axes -->
<path d="M31.5,577 V748.3 H213.5" stroke="#666" stroke-width="0.8" fill="none"/>
<path d="M29.5,579.1H31.5 M29.5,596H31.5 M29.5,612.9H31.5 M29.5,629.9H31.5 M29.5,646.8H31.5 M29.5,663.8H31.5 M29.5,680.7H31.5 M29.5,697.7H31.5 M29.5,714.7H31.5 M29.5,731.7H31.5 M49.3,748.3V750.3 M68.1,748.3V750.3 M87,748.3V750.3 M105.8,748.3V750.3 M124.7,748.3V750.3 M143.5,748.3V750.3 M162.4,748.3V750.3 M181.2,748.3V750.3 M200.1,748.3V750.3" stroke="#666" stroke-width="0.7"/>
<g font-size="6.6" fill="#333" text-anchor="end">
<text x="29" y="581.4">19</text><text x="29" y="598.3">17.2</text><text x="29" y="615.2">15.4</text><text x="29" y="632.2">13.6</text><text x="29" y="649.1">11.8</text><text x="29" y="666.1">10.0</text><text x="29" y="683">8.2</text><text x="29" y="700">6.4</text><text x="29" y="717">4.6</text><text x="29" y="734">2.8</text>
</g>
<g font-size="6.6" fill="#333" text-anchor="middle">
<text x="49.3" y="756.6">2.8</text><text x="68.1" y="756.6">4.6</text><text x="87" y="756.6">6.4</text><text x="105.8" y="756.6">8.2</text><text x="124.7" y="756.6">10.0</text><text x="143.5" y="756.6">11.8</text><text x="162.4" y="756.6">13.6</text><text x="181.2" y="756.6">15.4</text><text x="200.1" y="756.6">17.2</text>
</g>
<text x="123.3" y="765.8" font-size="7" fill="#333" text-anchor="middle">PDX- VJDT Treated Avg (log2)</text>
<text transform="translate(14.3,643) rotate(-90)" font-size="7" fill="#333" text-anchor="middle">PDX- Vehicle Avg (log2)</text>
<text x="40" y="586.5" font-size="5.2" fill="#333">Fold change</text>
<rect x="37.6" y="591.7" width="4.2" height="48.3" fill="url(#fcg)"/>
<text x="43.3" y="594.5" font-size="5" fill="#333">2</text>
<text x="42.5" y="642" font-size="5" fill="#333">-2</text>
<!-- labeled points -->
<g fill="#333" stroke="#888" stroke-width="0.4">
<circle cx="123.3" cy="644.3" r="1.3"/><circle cx="160" cy="659" r="1.3"/><circle cx="94.3" cy="674.3" r="1.3"/><circle cx="76" cy="684.3" r="1.3"/><circle cx="151.7" cy="684" r="1.3"/><circle cx="170.7" cy="687.3" r="1.3"/><circle cx="119" cy="691" r="1.3"/><circle cx="111" cy="697.3" r="1.3"/><circle cx="149" cy="702.3" r="1.3"/><circle cx="121.7" cy="709.3" r="1.3"/><circle cx="97.7" cy="711" r="1.3"/><circle cx="139" cy="716.7" r="1.3"/><circle cx="104" cy="717.7" r="1.3"/><circle cx="96.7" cy="726" r="1.3"/>
</g>
<g font-size="7" font-style="italic" fill="#222">
<text x="105" y="639.8">HMGB2</text>
<text x="162.3" y="661.5">STAT3</text>
<text x="74" y="670.8">AURKA</text>
<text x="58.3" y="685.2">TLX1</text>
<text x="173.3" y="693.5">IL1B</text>
<text x="121.7" y="690.8">NFKB1</text>
<text x="113.3" y="704.2">CSF1</text>
<text x="151" y="709.2">CXCL8</text>
<text x="121.7" y="716.8">TREM1</text>
<text x="100" y="715.2">IL6</text>
<text x="141.7" y="723.5">CCL20</text>
<text x="106" y="726.2">JUN</text>
<text x="85.3" y="734.8">CXCL10</text>
</g>

<!-- ================= PANEL F ================= -->
<text x="246.7" y="582" font-size="11" font-weight="bold">F</text>
<path d="M276,579.3 V696.7 H506" stroke="#222" stroke-width="0.9" fill="none"/>
<path d="M273,579.3H276 M273,603.3H276 M273,626.7H276 M273,650H276 M273,673.3H276" stroke="#222" stroke-width="0.9"/>
<path d="M291.7,696.7V699.5 M320.5,696.7V699.5 M349.3,696.7V699.5 M378.1,696.7V699.5 M406.9,696.7V699.5 M435.7,696.7V699.5 M464.5,696.7V699.5 M493.3,696.7V699.5" stroke="#222" stroke-width="0.9"/>
<g font-size="7" fill="#333" text-anchor="end">
<text x="271.5" y="581.8">2</text><text x="271.5" y="605.8">0</text><text x="271.5" y="629.2">-2</text><text x="271.5" y="652.5">-4</text><text x="271.5" y="675.8">-6</text>
</g>
<text transform="translate(260.8,633) rotate(-90)" font-size="6.8" fill="#333" text-anchor="middle">Log Fold Change</text>
<g stroke="#111" stroke-width="0.8">
<rect x="283.2" y="591.05" width="6" height="12.25" fill="#f23cf2"/><rect x="294.2" y="603.3" width="6" height="37.9" fill="#22dd22"/>
<rect x="312" y="590.2" width="6" height="13.1" fill="#f23cf2"/><rect x="323" y="603.3" width="6" height="36.8" fill="#22dd22"/>
<rect x="340.8" y="590.2" width="6" height="13.1" fill="#f23cf2"/><rect x="351.8" y="603.3" width="6" height="35" fill="#22dd22"/>
<rect x="369.6" y="590.5" width="6" height="12.8" fill="#f23cf2"/><rect x="380.6" y="603.3" width="6" height="48.4" fill="#22dd22"/>
<rect x="398.4" y="590.5" width="6" height="12.8" fill="#f23cf2"/><rect x="409.4" y="603.3" width="6" height="59.5" fill="#22dd22"/>
<rect x="427.2" y="591.6" width="6" height="11.7" fill="#f23cf2"/><rect x="438.2" y="603.3" width="6" height="36.2" fill="#22dd22"/>
<rect x="456" y="591.6" width="6" height="11.7" fill="#f23cf2"/><rect x="467" y="603.3" width="6" height="37.3" fill="#22dd22"/>
<rect x="484.8" y="591.6" width="6" height="11.7" fill="#f23cf2"/><rect x="495.8" y="603.3" width="6" height="26.3" fill="#22dd22"/>
</g>
<path d="M276,603.3 H506" stroke="#111" stroke-width="0.8" stroke-dasharray="1,1.6"/>
<path d="M297.2,629V653.5 M295.7,653.5H298.7 M295.7,629H298.7 M326,624.3V654.6 M324.5,654.6H327.5 M324.5,624.3H327.5 M354.8,637.1V640.1 M353.3,640.1H356.3 M383.6,641.8V660.5 M382.1,660.5H385.1 M382.1,641.8H385.1 M412.4,647.6V676.8 M410.9,676.8H413.9 M410.9,647.6H413.9 M441.2,632.5V647.6 M439.7,647.6H442.7 M439.7,632.5H442.7 M470,638.9V643 M468.5,643H471.5 M498.8,626.6V633.1 M497.3,633.1H500.3 M497.3,626.6H500.3
M286.2,594.5V587.5 M284.7,587.5H287.7 M315,591V589.3 M313.5,589.3H316.5 M343.8,591.6V587.5 M342.3,587.5H345.3 M372.6,590.5V588.9 M371.1,588.9H374.1 M401.4,590V589.8 M400,589.8H403 M428.7,590.5H431.7 M457.5,590.8H460.5 M486.3,590.8H489.3" stroke="#333" stroke-width="0.7" fill="none"/>
<g fill="none" stroke="#555" stroke-width="0.5">
<circle cx="297.2" cy="629" r="1"/><circle cx="297.2" cy="646" r="1"/><circle cx="297.2" cy="653.5" r="1"/><circle cx="326" cy="624.3" r="1"/><circle cx="326" cy="649" r="1"/><circle cx="326" cy="654.6" r="1"/><circle cx="354.8" cy="639.5" r="1"/><circle cx="383.6" cy="641.8" r="1"/><circle cx="382.6" cy="659" r="1"/><circle cx="384.6" cy="659" r="1"/><circle cx="412.4" cy="647.6" r="1"/><circle cx="411.2" cy="673.5" r="1"/><circle cx="413.6" cy="673.5" r="1"/><circle cx="441.2" cy="635" r="1"/><circle cx="441.2" cy="646" r="1"/><circle cx="470" cy="641" r="1"/><circle cx="498.8" cy="628" r="1"/><circle cx="498.8" cy="632" r="1"/><circle cx="286.2" cy="587.5" r="1"/><circle cx="286.2" cy="593" r="1"/><circle cx="343.8" cy="587.8" r="1"/><circle cx="372" cy="589.5" r="1"/><circle cx="374" cy="589.5" r="1"/>
</g>
<g font-size="7" font-style="italic" fill="#222" text-anchor="middle">
<text x="291.7" y="708.7">IL1B</text><text x="320.5" y="708.7">CXCL10</text><text x="349.3" y="708.7">CCL20</text><text x="378.1" y="708.7">CXCL8</text><text x="406.9" y="708.7">NFKB1</text><text x="435.7" y="708.7">STAT3</text><text x="464.5" y="708.7">JUN</text><text x="493.3" y="708.7">IL6</text>
</g>
<rect x="473.3" y="660.3" width="4" height="4" fill="#f23cf2"/>
<text x="480" y="665" font-size="7.5" fill="#444">vehicle</text>
<rect x="473.3" y="674.7" width="4" height="4" fill="#1aa81a"/>
<text x="480" y="679.3" font-size="7.5" fill="#444">VJDT</text>
</svg>
</body></html>
